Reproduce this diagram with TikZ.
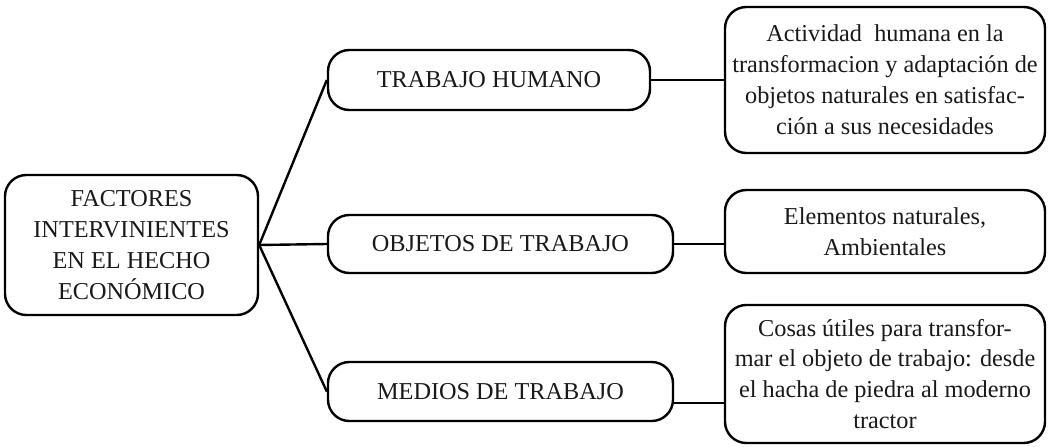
\documentclass[tikz,border=0pt]{standalone}
\usepackage{fontspec}
\setmainfont{Liberation Serif}
\usepackage{tikz}

\begin{document}
\begin{tikzpicture}[x=0.75pt,y=-0.75pt,
        box/.style={draw,line width=1.8pt,rounded corners=16pt,align=center,inner sep=0pt,
            font=\fontsize{18.2}{23.2}\selectfont,text=black!90},
        link/.style={line width=1.8pt}]
        \useasboundingbox (0,0) rectangle (1055,446);
        \node[box,minimum width=253*0.75pt,minimum height=140*0.75pt] (factores) at (131.5,245)
            {FACTORES\\INTERVINIENTES\\EN EL HECHO\\ECONÓMICO};
        \node[box,minimum width=322*0.75pt,minimum height=60*0.75pt] (humano) at (489,80)
            {TRABAJO HUMANO};
        \node[box,minimum width=345*0.75pt,minimum height=58*0.75pt] (objetos) at (500.5,244)
            {OBJETOS DE TRABAJO};
        \node[box,minimum width=345*0.75pt,minimum height=59*0.75pt] (medios) at (500.5,391.5)
            {MEDIOS DE TRABAJO};
        \node[box,minimum width=320*0.75pt,minimum height=146*0.75pt] (actividad) at (885,80)
            {Actividad\ \ humana en la\\transformacion y adaptación de\\objetos naturales en satisfac-\\ción a sus necesidades};
        \node[box,minimum width=320*0.75pt,minimum height=83*0.75pt] (elementos) at (885,231.5)
            {Elementos naturales,\\Ambientales};
        \node[box,minimum width=320*0.75pt,minimum height=138*0.75pt] (cosas) at (885,374)
            {Cosas útiles para transfor-\\mar el objeto de trabajo: desde\\el hacha de piedra al moderno\\tractor};
        \draw[link] (factores.east) -- (humano.west);
        \draw[link] (factores.east) -- (objetos.west);
        \draw[link] (factores.east) -- (medios.west);
        \draw[link] (humano.east) -- (actividad.west);
        \draw[link] (objetos.east) -- (objetos.east -| elementos.west);
        \draw[link] ([yshift=-8.5pt]medios.east) -- ([yshift=-8.5pt]medios.east -| cosas.west);
    \end{tikzpicture}
\end{document}
